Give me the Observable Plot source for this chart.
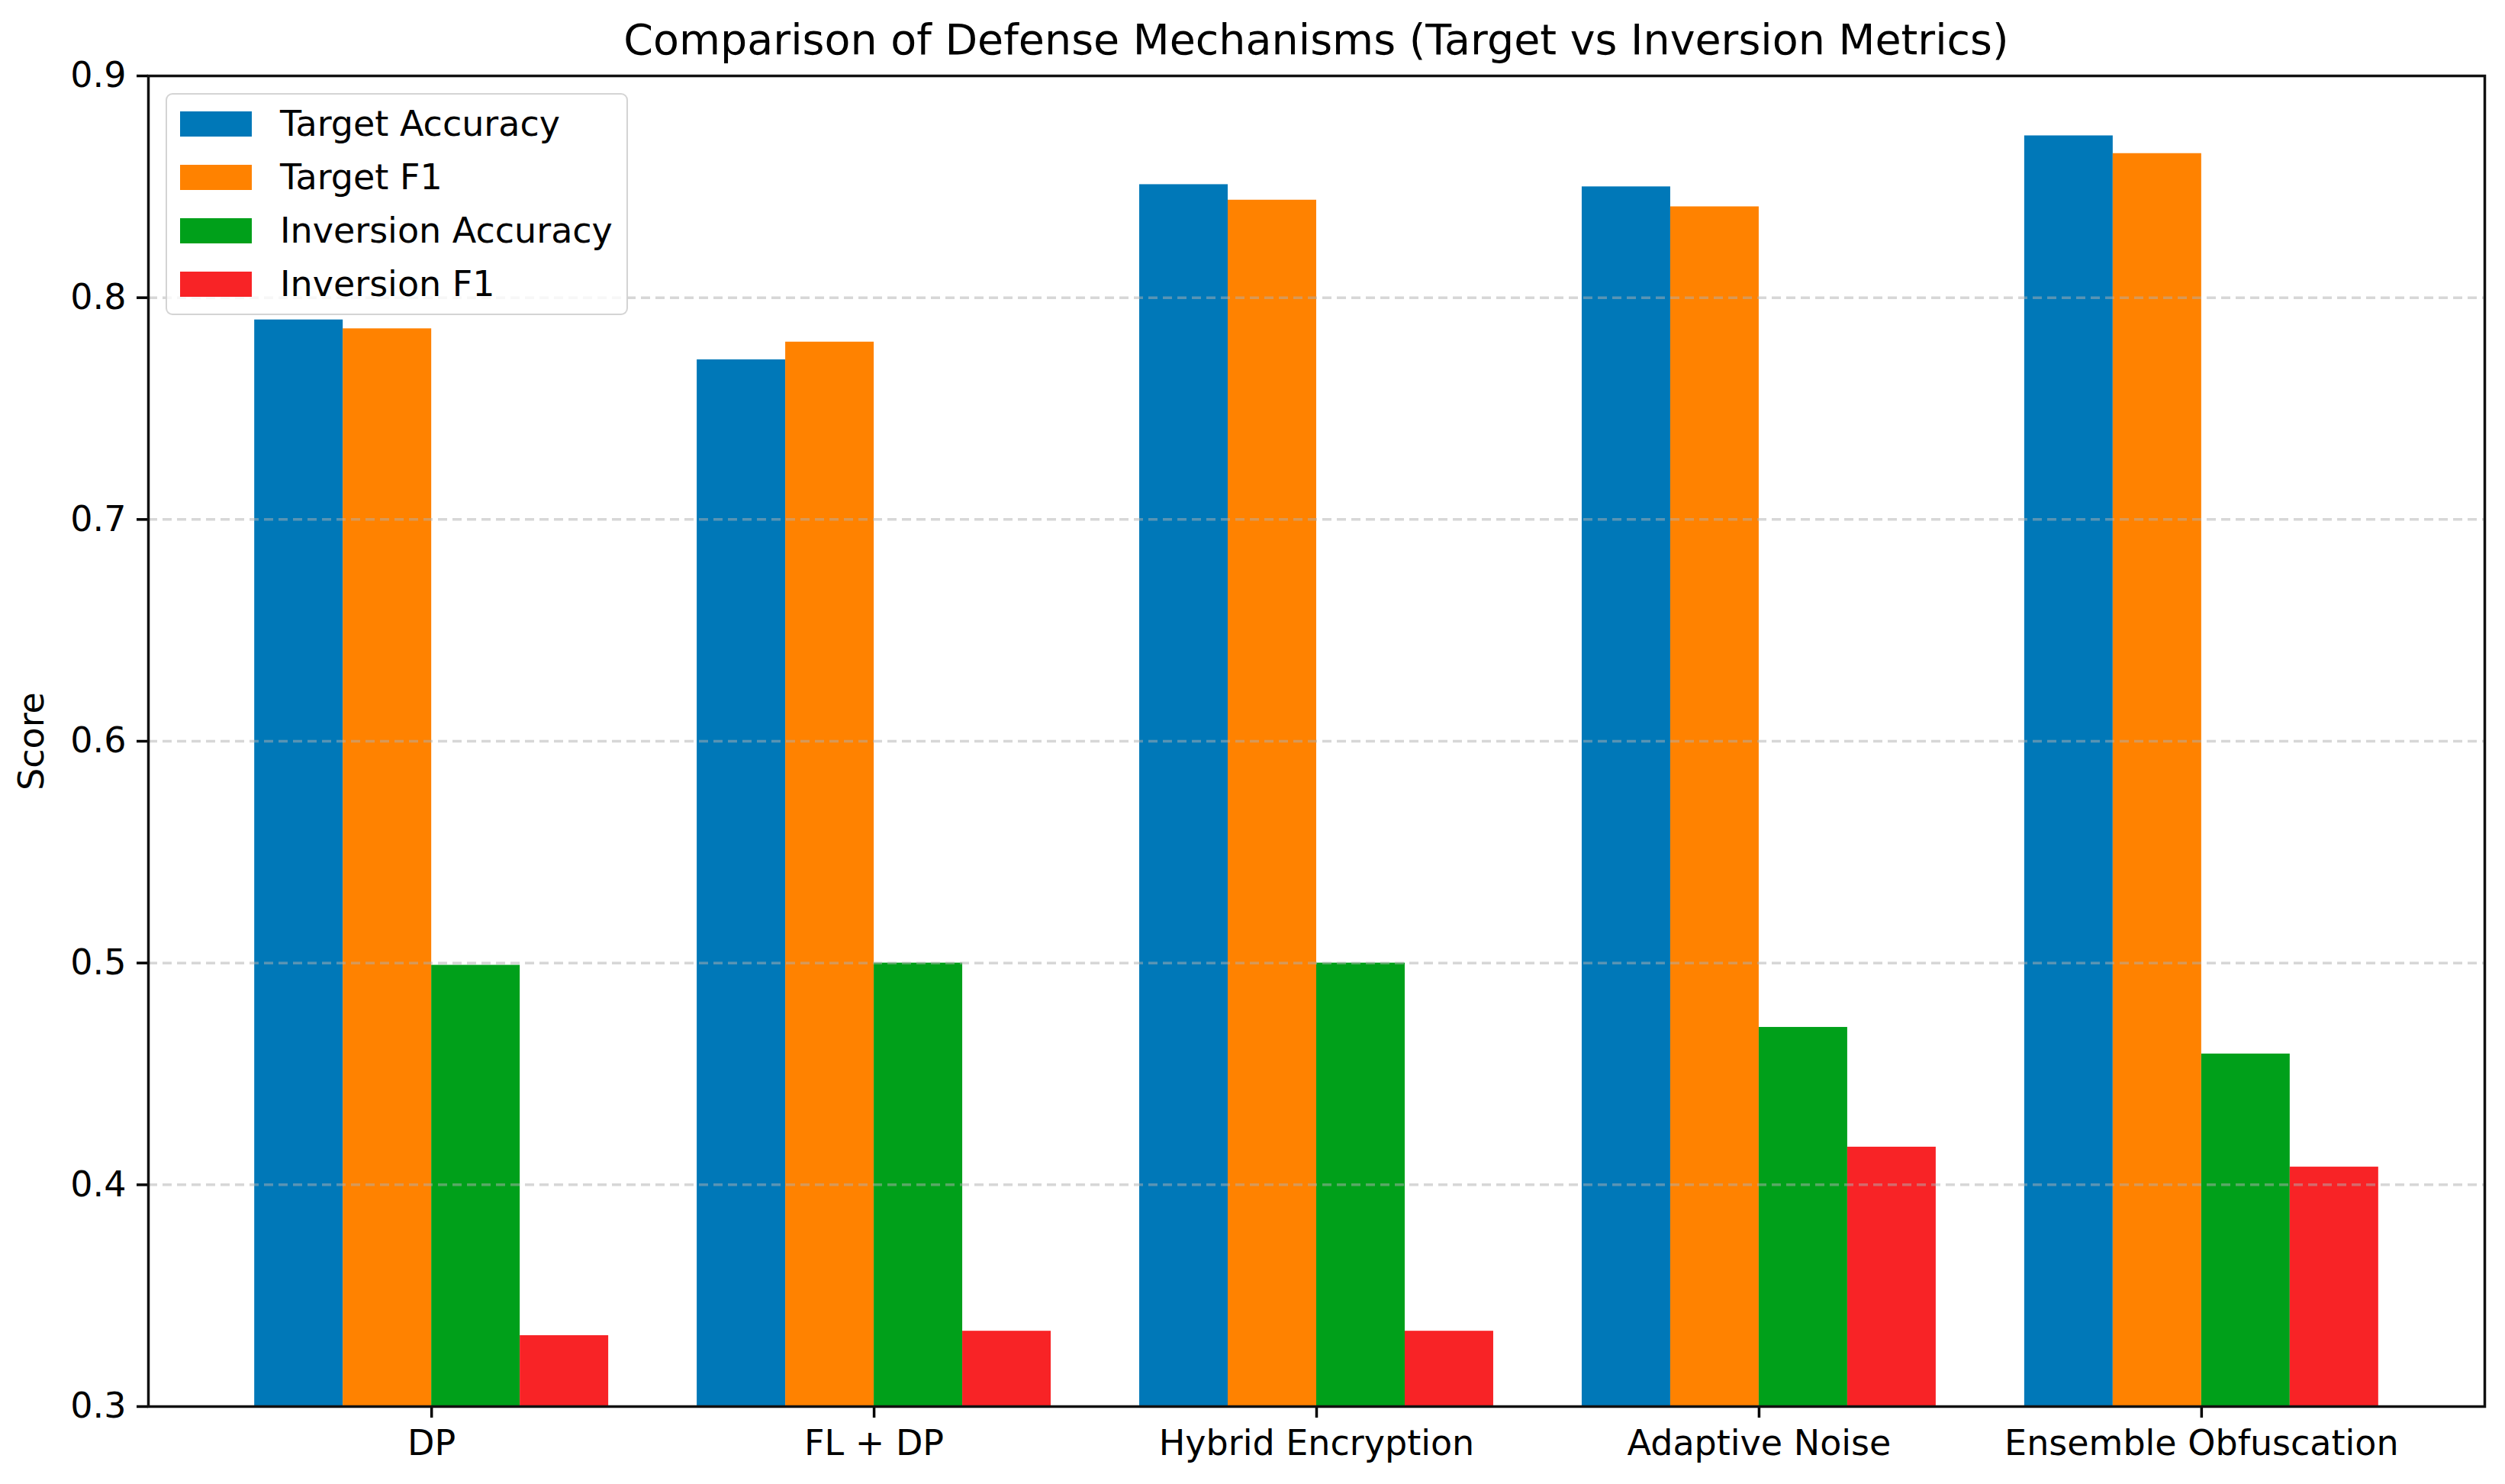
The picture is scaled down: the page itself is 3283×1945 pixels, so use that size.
<!DOCTYPE html>
<html><head><meta charset="utf-8">
<script src="https://cdn.jsdelivr.net/npm/d3@7"></script>
<script src="https://cdn.jsdelivr.net/npm/@observablehq/plot@0.6"></script>
<style>
html,body{margin:0;padding:0;background:#fff;}
#wrap{position:relative;width:3283px;height:1945px;font-family:"DejaVu Sans",sans-serif;color:#000;overflow:hidden;}
#chart{position:absolute;left:0;top:0;}
#title{position:absolute;left:194px;top:0;height:80px;box-sizing:border-box;padding-top:24px;line-height:55px;font-size:55.5px;text-align:center;width:3062px;white-space:nowrap;}
#legend{position:absolute;left:217px;top:122px;width:606px;height:291px;box-sizing:border-box;border:2px solid rgba(204,204,204,0.85);border-radius:9px;background:rgba(255,255,255,0.8);}
.item{position:absolute;left:17px;height:46px;display:flex;align-items:center;font-size:46px;white-space:nowrap;}
.sw{width:94px;height:33px;margin-right:37px;flex:none;}
</style></head><body>
<div id="wrap"><div id="chart"></div><div id="title"></div><div id="legend"></div></div>
<script>
const title = "Comparison of Defense Mechanisms (Target vs Inversion Metrics)";
const mechanisms = ["DP", "FL + DP", "Hybrid Encryption", "Adaptive Noise", "Ensemble Obfuscation"];
const metrics = ["Target Accuracy", "Target F1", "Inversion Accuracy", "Inversion F1"];
const targetAccuracy = [0.790, 0.772, 0.851, 0.850, 0.873];
const targetF1 = [0.786, 0.780, 0.844, 0.841, 0.865];
const inversionAccuracy = [0.499, 0.500, 0.500, 0.471, 0.459];
const inversionF1 = [0.332, 0.334, 0.334, 0.417, 0.408];
const colors = ["#0078b8", "#ff8200", "#00a01a", "#f82326"];
const yTicks = [0.3, 0.4, 0.5, 0.6, 0.7, 0.8, 0.9];
const yLabel = "Score";

const series = [targetAccuracy, targetF1, inversionAccuracy, inversionF1];
const rows = mechanisms.flatMap((m, i) => metrics.map((s, j) => ({mechanism: m, metric: s, i, j, value: series[j][i]})));

const barWidth = 0.2;
const nSeries = metrics.length;
const lo = -nSeries / 2 * barWidth, hi = mechanisms.length - 1 + nSeries / 2 * barWidth;
const pad = 0.05 * (hi - lo);

document.getElementById("title").textContent = title;

const chart = Plot.plot({
  width: 3283,
  height: 1945,
  marginTop: 99,
  marginBottom: 102,
  marginLeft: 194,
  marginRight: 27,
  style: {fontFamily: "DejaVu Sans, sans-serif", fontSize: "46px", color: "#000", background: "#fff"},
  x: {type: "linear", domain: [lo - pad, hi + pad]},
  y: {domain: [yTicks[0], yTicks[yTicks.length - 1]]},
  color: {domain: metrics, range: colors},
  marks: [
    Plot.rect(rows, {
      x1: d => d.i + (d.j - nSeries / 2) * barWidth,
      x2: d => d.i + (d.j - nSeries / 2 + 1) * barWidth,
      y1: () => 0,
      y2: "value",
      fill: "metric",
      clip: true
    }),
    Plot.gridY(yTicks.slice(1, -1), {stroke: "#b0b0b0", strokeOpacity: 0.5, strokeWidth: 3.5, strokeDasharray: "12,7"}),
    Plot.axisY(yTicks, {
      tickFormat: d => d.toFixed(1), tickSize: 15, tickPadding: 14, strokeWidth: 3.5,
      label: yLabel, labelAnchor: "center", labelArrow: "none", labelOffset: 170, fontSize: 46
    }),
    Plot.axisX(d3.range(mechanisms.length), {
      tickFormat: i => mechanisms[i], tickSize: 15, tickPadding: 16, strokeWidth: 3.5, label: null, fontSize: 46
    }),
    Plot.frame({stroke: "#111", strokeWidth: 3.5})
  ]
});
document.getElementById("chart").appendChild(chart);

const legend = document.getElementById("legend");
const itemStep = 70;
metrics.forEach((m, j) => {
  const item = document.createElement("div");
  item.className = "item";
  item.style.top = (15 + j * itemStep) + "px";
  const sw = document.createElement("div");
  sw.className = "sw";
  sw.style.background = colors[j];
  const label = document.createElement("span");
  label.textContent = m;
  item.appendChild(sw);
  item.appendChild(label);
  legend.appendChild(item);
});
</script>
</body></html>
